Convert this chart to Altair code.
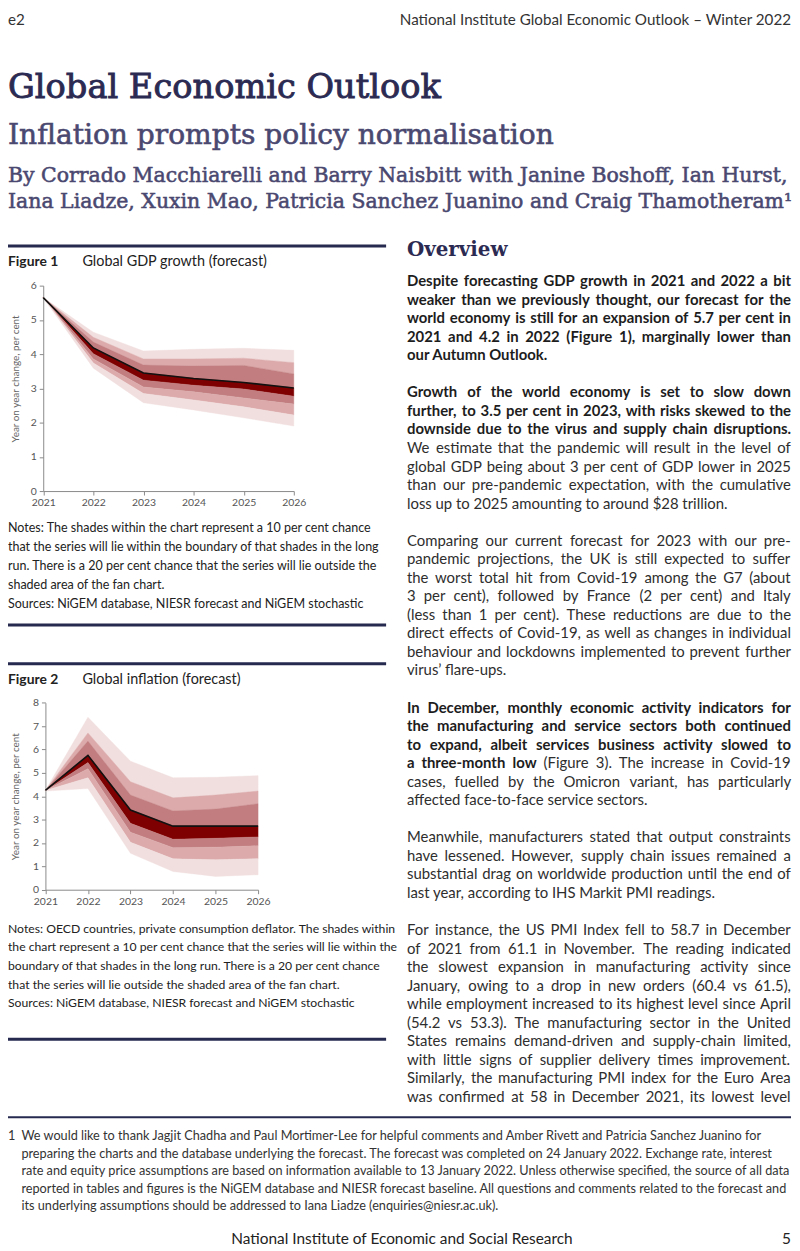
import glob
import os
import struct

import altair as alt
import pandas as pd

# ---------------- data ----------------
years = [2021, 2022, 2023, 2024, 2025, 2026]

# Figure 1: Global GDP growth fan (band boundaries, top to bottom)
gdp_up3 = [5.65, 4.64, 4.09, 4.14, 4.17, 4.11]
gdp_up2 = [5.65, 4.49, 3.86, 3.86, 3.88, 3.75]
gdp_up1 = [5.65, 4.35, 3.68, 3.65, 3.67, 3.42]
gdp_central = [5.65, 4.18, 3.45, 3.29, 3.17, 3.01]
gdp_dn1 = [5.65, 4.01, 3.24, 3.09, 2.98, 2.77]
gdp_dn2 = [5.65, 3.86, 3.04, 2.90, 2.72, 2.54]
gdp_dn3 = [5.65, 3.74, 2.85, 2.66, 2.46, 2.22]
gdp_dn4 = [5.65, 3.59, 2.58, 2.37, 2.14, 1.90]

# Figure 2: Global inflation fan
inf_up3 = [4.25, 7.38, 5.50, 4.79, 4.81, 4.88]
inf_up2 = [4.25, 6.71, 4.62, 3.93, 4.05, 4.22]
inf_up1 = [4.25, 6.36, 4.05, 3.37, 3.45, 3.68]
inf_central = [4.25, 5.75, 3.41, 2.72, 2.72, 2.72]
inf_dn1 = [4.25, 5.44, 2.84, 2.16, 2.20, 2.26]
inf_dn2 = [4.25, 5.18, 2.46, 1.80, 1.82, 1.88]
inf_dn3 = [4.25, 4.79, 2.03, 1.32, 1.28, 1.33]
inf_dn4 = [4.22, 4.33, 1.56, 0.78, 0.57, 0.64]

band_names = ["u3", "u2", "u1", "d1", "d2", "d3", "d4"]
band_colors = ["#f1dfdf", "#dcaaab", "#c17d7f", "#7f0000", "#c17d7f", "#dcaaab", "#f1dfdf"]

gdp_ticks = [0, 1, 2, 3, 4, 5, 6]
inf_ticks = [0, 1, 2, 3, 4, 5, 6, 7, 8]

# ---------------- font metrics (for justified body text) ----------------


def _parse_font(fn):
    data = open(fn, "rb").read()
    num = struct.unpack(">H", data[4:6])[0]
    tables = {}
    for i in range(num):
        tag, _cs, off, ln = struct.unpack(">4sIII", data[12 + 16 * i: 28 + 16 * i])
        tables[tag.decode("latin1")] = off
    upem = struct.unpack(">H", data[tables["head"] + 18: tables["head"] + 20])[0]
    nhm = struct.unpack(">H", data[tables["hhea"] + 34: tables["hhea"] + 36])[0]
    ho = tables["hmtx"]
    adv = [struct.unpack(">H", data[ho + 4 * i: ho + 4 * i + 2])[0] for i in range(nhm)]
    co = tables["cmap"]
    n = struct.unpack(">H", data[co + 2: co + 4])[0]
    sub = None
    for i in range(n):
        pid, eid, so = struct.unpack(">HHI", data[co + 4 + 8 * i: co + 12 + 8 * i])
        fmt = struct.unpack(">H", data[co + so: co + so + 2])[0]
        if fmt == 4 and pid in (0, 3):
            sub = co + so
            break
    seg2 = struct.unpack(">H", data[sub + 6: sub + 8])[0]
    seg = seg2 // 2
    ends = struct.unpack(">%dH" % seg, data[sub + 14: sub + 14 + seg2])
    starts = struct.unpack(">%dH" % seg, data[sub + 16 + seg2: sub + 16 + 2 * seg2])
    deltas = struct.unpack(">%dh" % seg, data[sub + 16 + 2 * seg2: sub + 16 + 3 * seg2])
    rpos = sub + 16 + 3 * seg2
    roffs = struct.unpack(">%dH" % seg, data[rpos: rpos + seg2])

    def gid(c):
        for i in range(seg):
            if starts[i] <= c <= ends[i]:
                if roffs[i] == 0:
                    return (c + deltas[i]) & 0xFFFF
                addr = rpos + 2 * i + roffs[i] + 2 * (c - starts[i])
                g = struct.unpack(">H", data[addr: addr + 2])[0]
                return (g + deltas[i]) & 0xFFFF if g else 0
        return 0

    def width(s, size):
        tot = 0
        for ch in s:
            g = gid(ord(ch))
            tot += adv[g] if g < nhm else adv[-1]
        return tot * size / upem

    width("abc", 10)
    return width


def _find_font(names):
    roots = ["/usr/share/fonts", "/usr/local/share/fonts",
             os.path.expanduser("~/.fonts"), os.path.expanduser("~/.local/share/fonts")]
    for root in roots:
        for nm in names:
            for fn in glob.glob(os.path.join(root, "**", nm), recursive=True):
                try:
                    return _parse_font(fn)
                except Exception:
                    pass
    return None


try:
    W_REG = _find_font(["Lato-Regular.ttf", "Lato-Regular.otf", "Lato-Reg.ttf"])
    W_BOLD = _find_font(["Lato-Bold.ttf", "Lato-Bold.otf"])
except Exception:
    W_REG = W_BOLD = None

# ---------------- page layout helpers ----------------
W, H = 790, 1243
FONT = "Lato"
SERIF = "DejaVu Serif"
NAVY = "#2b2a52"
SUB = "#4a4870"
TXT = "#2b2b2b"


def X(px):
    return max(px - 8, 0)


def Y(py):
    return py - 8


one = pd.DataFrame({"k": [0]})


def text(s, x, y, size, weight="normal", color=TXT, font=FONT, align="left",
         baseline="middle", thicken=0):
    kw = dict(text=s, font=font, fontSize=size, fontWeight=weight, color=color,
              align=align, baseline=baseline)
    if thicken:
        kw.update(stroke=color, strokeWidth=thicken)
    return alt.Chart(one).mark_text(**kw).encode(x=alt.value(x), y=alt.value(y))


def rule(x1, x2, y, width=3, color="#262a4f"):
    return alt.Chart(one).mark_rule(color=color, strokeWidth=width).encode(
        x=alt.value(x1), x2=alt.value(x2), y=alt.value(y)
    )


def fan(central, bounds, ticks, xrange, yrange, title_x, title_y=None):
    up3, up2, up1, dn1, dn2, dn3, dn4 = bounds
    pairs = {
        "u3": (up2, up3), "u2": (up1, up2), "u1": (central, up1),
        "d1": (dn1, central), "d2": (dn2, dn1), "d3": (dn3, dn2), "d4": (dn4, dn3),
    }
    rows = []
    for name in band_names:
        lo, hi = pairs[name]
        for yr, a, b in zip(years, lo, hi):
            rows.append({"year": yr, "band": name, "lo": a, "hi": b})
    bands = pd.DataFrame(rows)
    line = pd.DataFrame({"year": years, "lo": central})

    xs = alt.Scale(domain=[2021, 2026], range=xrange, nice=False, zero=False)
    ys = alt.Scale(domain=[ticks[0], ticks[-1]], range=yrange, nice=False, zero=False)
    yaxis_kw = dict(
        orient="left", offset=-xrange[0], values=ticks, format="d",
        labelFont=FONT, labelFontSize=10.5, labelColor="#555555", labelPadding=3,
        tickSize=4, tickColor="#8a8a8a", domainColor="#8a8a8a", grid=False,
        title="Year on year change, per cent", titleFont=FONT, titleFontSize=10,
        titleFontWeight="normal", titleColor="#666666", titleX=title_x,
    )
    if title_y is not None:
        yaxis_kw["titleY"] = title_y
    yaxis = alt.Axis(**yaxis_kw)
    xaxis = alt.Axis(
        orient="bottom", offset=yrange[0] - H, values=years, format="d",
        labelFont=FONT, labelFontSize=10.5, labelColor="#555555", labelPadding=3,
        tickSize=4, tickColor="#8a8a8a", domainColor="#8a8a8a", grid=False,
        title=None, labelFlush=False,
    )
    area = alt.Chart(bands).mark_area(opacity=1, strokeWidth=0.4).encode(
        x=alt.X("year:Q", scale=xs, axis=xaxis),
        y=alt.Y("lo:Q", scale=ys, axis=yaxis, stack=None),
        y2="hi:Q",
        color=alt.Color("band:N", scale=alt.Scale(domain=band_names, range=band_colors),
                        legend=None),
        stroke=alt.Stroke("band:N", scale=alt.Scale(domain=band_names, range=band_colors),
                          legend=None),
    )
    ln = alt.Chart(line).mark_line(color="#111111", strokeWidth=1.6).encode(
        x=alt.X("year:Q", scale=xs, axis=xaxis),
        y=alt.Y("lo:Q", scale=ys, axis=yaxis),
    )
    return alt.layer(area, ln)


fig1 = fan(gdp_central, [gdp_up3, gdp_up2, gdp_up1, gdp_dn1, gdp_dn2, gdp_dn3, gdp_dn4],
           gdp_ticks, [35.5, 288], [482, 275], title_x=-23, title_y=368.5)
fig2 = fan(inf_central, [inf_up3, inf_up2, inf_up1, inf_dn1, inf_dn2, inf_dn3, inf_dn4],
           inf_ticks, [37.7, 252], [883.7, 695.3], title_x=-25.2)

layers = [fig1, fig2]

# ---------------- header ----------------
layers.append(text("e2", 0, 0, 15.3, color="#333333", baseline="top"))
layers.append(text("National Institute Global Economic Outlook \u2013 Winter 2022", 789, 0, 15.3,
                   color="#333333", align="right", baseline="top"))
layers.append(text("Global Economic Outlook", 0, Y(94), 33.9, color=NAVY, font=SERIF,
                   baseline="alphabetic", thicken=0.9))
layers.append(text("Inflation prompts policy normalisation", 0, Y(140), 28.3, color=SUB,
                   font=SERIF, baseline="alphabetic", thicken=0.6))
layers.append(text("By Corrado Macchiarelli and Barry Naisbitt with Janine Boshoff, Ian Hurst,",
                   0, Y(179), 20.6, color=SUB, font=SERIF, baseline="alphabetic", thicken=0.55))
layers.append(text("Iana Liadze, Xuxin Mao, Patricia Sanchez Juanino and Craig Thamotheram\u00b9",
                   0, Y(205), 20.6, color=SUB, font=SERIF, baseline="alphabetic", thicken=0.55))

# ---------------- left column: figure 1 ----------------
layers.append(rule(0, X(389), Y(243)))
layers.append(text("Figure 1", 0, Y(259), 14, weight="bold", color="#222222"))
layers.append(text("Global GDP growth (forecast)", X(83), Y(259), 14.5, color="#222222"))
notes1 = [
    "Notes: The shades within the chart represent a 10 per cent chance",
    "that the series will lie within the boundary of that shades in the long",
    "run. There is a 20 per cent chance that the series will lie outside the",
    "shaded area of the fan chart.",
    "Sources: NiGEM database, NIESR forecast and NiGEM stochastic",
]
for i, s in enumerate(notes1):
    layers.append(text(s, 0, Y(527.3 + 19.25 * i), 12.6, color="#222222"))
layers.append(rule(0, X(389), Y(625)))

# ---------------- left column: figure 2 ----------------
layers.append(rule(0, X(389), Y(664)))
layers.append(text("Figure 2", 0, Y(680.7), 14, weight="bold", color="#222222"))
layers.append(text("Global inflation (forecast)", X(83), Y(680.7), 14.5, color="#222222"))
notes2 = [
    "Notes: OECD countries, private consumption deflator. The shades within",
    "the chart represent a 10 per cent chance that the series will lie within the",
    "boundary of that shades in the long run. There is a 20 per cent chance",
    "that the series will lie outside the shaded area of the fan chart.",
    "Sources: NiGEM database, NIESR forecast and NiGEM stochastic",
]
for i, s in enumerate(notes2):
    layers.append(text(s, 0, Y(931 + 18.8 * i), 12.3, color="#222222"))
layers.append(rule(0, X(389), Y(1042.5)))

# ---------------- right column ----------------
layers.append(text("Overview", X(410), Y(253), 20, weight="bold", color=NAVY, font=SERIF,
                   baseline="alphabetic"))

B = "bold"
N = "normal"
# (segments, justified?)
body = [
    ([("Despite forecasting GDP growth in 2021 and 2022 a bit", B)], True),
    ([("weaker than we previously thought, our forecast for the", B)], True),
    ([("world economy is still for an expansion of 5.7 per cent in", B)], True),
    ([("2021 and 4.2 in 2022 (Figure 1), marginally lower than", B)], True),
    ([("our Autumn Outlook.", B)], False),
    None,
    ([("Growth of the world economy is set to slow down", B)], True),
    ([("further, to 3.5 per cent in 2023, with risks skewed to the", B)], True),
    ([("downside due to the virus and supply chain disruptions.", B)], True),
    ([("We estimate that the pandemic will result in the level of", N)], True),
    ([("global GDP being about 3 per cent of GDP lower in 2025", N)], True),
    ([("than our pre-pandemic expectation, with the cumulative", N)], True),
    ([("loss up to 2025 amounting to around $28 trillion.", N)], False),
    None,
    ([("Comparing our current forecast for 2023 with our pre-", N)], True),
    ([("pandemic projections, the UK is still expected to suffer", N)], True),
    ([("the worst total hit from Covid-19 among the G7 (about", N)], True),
    ([("3 per cent), followed by France (2 per cent) and Italy", N)], True),
    ([("(less than 1 per cent). These reductions are due to the", N)], True),
    ([("direct effects of Covid-19, as well as changes in individual", N)], True),
    ([("behaviour and lockdowns implemented to prevent further", N)], True),
    ([("virus\u2019 flare-ups.", N)], False),
    None,
    ([("In December, monthly economic activity indicators for", B)], True),
    ([("the manufacturing and service sectors both continued", B)], True),
    ([("to expand, albeit services business activity slowed to", B)], True),
    ([("a three-month low", B), ("(Figure 3). The increase in Covid-19", N)], True),
    ([("cases, fuelled by the Omicron variant, has particularly", N)], True),
    ([("affected face-to-face service sectors.", N)], False),
    None,
    ([("Meanwhile, manufacturers stated that output constraints", N)], True),
    ([("have lessened. However, supply chain issues remained a", N)], True),
    ([("substantial drag on worldwide production until the end of", N)], True),
    ([("last year, according to IHS Markit PMI readings.", N)], False),
    None,
    ([("For instance, the US PMI Index fell to 58.7 in December", N)], True),
    ([("of 2021 from 61.1 in November. The reading indicated", N)], True),
    ([("the slowest expansion in manufacturing activity since", N)], True),
    ([("January, owing to a drop in new orders (60.4 vs 61.5),", N)], True),
    ([("while employment increased to its highest level since April", N)], True),
    ([("(54.2 vs 53.3). The manufacturing sector in the United", N)], True),
    ([("States remains demand-driven and supply-chain limited,", N)], True),
    ([("with little signs of supplier delivery times improvement.", N)], True),
    ([("Similarly, the manufacturing PMI index for the Euro Area", N)], True),
    ([("was confirmed at 58 in December 2021, its lowest level", N)], True),
]

BODY_SIZE = 15
COL_X0 = X(410)
COL_W = 387
COLOR_B = "#1d1d1d"
COLOR_N = "#2e2e2e"


def wfun(weight):
    if weight == B:
        if W_BOLD is not None:
            return W_BOLD
        if W_REG is not None:
            return lambda s, z: W_REG(s, z) * 1.04
        return None
    return W_REG


word_rows = []
can_justify = W_REG is not None
for slot, item in enumerate(body):
    if item is None:
        continue
    parts, just = item
    yy = Y(278.5 + 18.68 * slot)
    if just and can_justify:
        words = []
        for s, w in parts:
            for tok in s.split(" "):
                words.append((tok, w))
        widths = [wfun(w)(tok, BODY_SIZE) for tok, w in words]
        gap = (COL_W - sum(widths)) / (len(words) - 1)
        xx = COL_X0
        for (tok, w), ww in zip(words, widths):
            word_rows.append({"x": xx, "y": yy, "w": tok, "weight": w})
            xx += ww + gap
    else:
        xx = COL_X0
        for s, w in parts:
            word_rows.append({"x": xx, "y": yy, "w": s, "weight": w})
            f = wfun(w)
            xx += (f(s + " ", BODY_SIZE) if f else 124)

words_df = pd.DataFrame(word_rows)
for wt, col in [(N, COLOR_N), (B, COLOR_B)]:
    sub = words_df[words_df["weight"] == wt]
    layers.append(
        alt.Chart(sub).mark_text(font=FONT, fontSize=BODY_SIZE, fontWeight=wt, color=col,
                                 align="left", baseline="middle").encode(
            x=alt.X("x:Q", scale=None, axis=None),
            y=alt.Y("y:Q", scale=None, axis=None),
            text="w:N",
        )
    )

# ---------------- footnote & footer ----------------
layers.append(rule(0, 789, Y(1121), width=2))
foot = [
    "We would like to thank Jagjit Chadha and Paul Mortimer-Lee for helpful comments and Amber Rivett and Patricia Sanchez Juanino for",
    "preparing the charts and the database underlying the forecast. The forecast was completed on 24 January 2022. Exchange rate, interest",
    "rate and equity price assumptions are based on information available to 13 January 2022. Unless otherwise specified, the source of all data",
    "reported in tables and figures is the NiGEM database and NIESR forecast baseline. All questions and comments related to the forecast and",
    "its underlying assumptions should be addressed to Iana Liadze (enquiries@niesr.ac.uk).",
]
layers.append(text("1", 0, Y(1140.4), 12.8, color="#333333"))
for i, s in enumerate(foot):
    layers.append(text(s, X(21.5), Y(1140.4 + 17.5 * i), 12.8, color="#333333"))
layers.append(text("National Institute of Economic and Social Research", X(233), Y(1243.8), 15.5,
                   color="#222222"))
layers.append(text("5", 789, Y(1243.8), 15.5, color="#222222", align="right"))

chart = alt.layer(*layers).resolve_scale(
    x="independent", y="independent", color="shared", stroke="shared"
).properties(
    width=W, height=H, padding=0, autosize=alt.AutoSizeParams(type="none")
).configure(background="white").configure_view(stroke=None, strokeWidth=0)

chart.save("out.html", embed_options={"renderer": "svg", "actions": False})
